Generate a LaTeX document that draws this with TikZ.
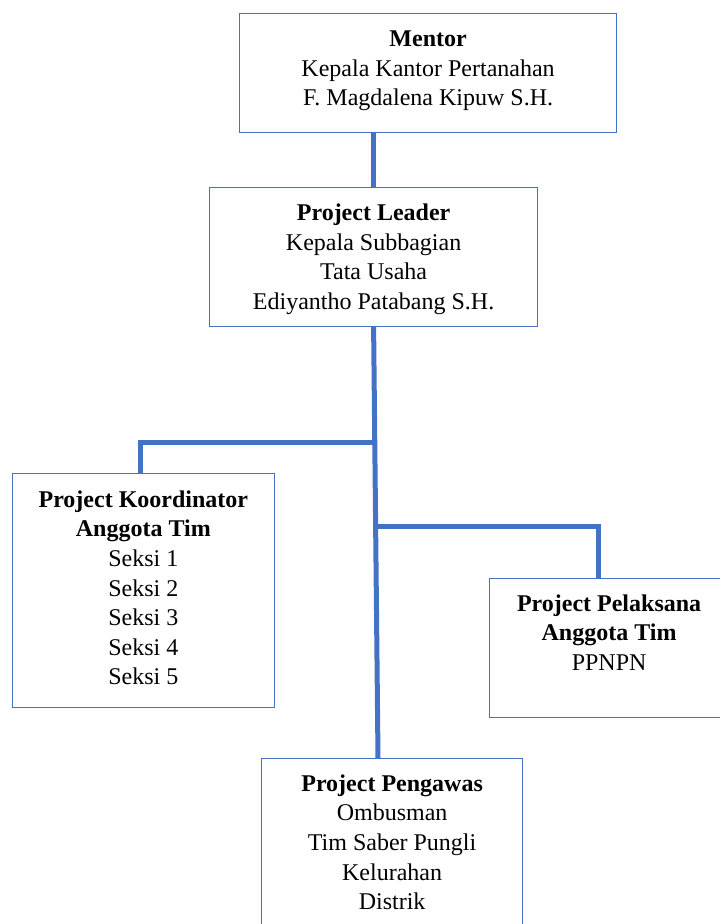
\documentclass[tikz,border=0pt]{standalone}
\usepackage{fontspec}
\setmainfont{Liberation Serif}
\usetikzlibrary{calc,backgrounds}
\definecolor{wblue}{HTML}{4472C4}
\newcommand\myfirst{\rule{0pt}{22pt}}
\begin{document}
\begin{tikzpicture}[x=1pt,y=-1pt,
  box/.style={draw=wblue, line width=1.2pt, fill=white, rectangle, inner sep=0pt, anchor=north west},
  conn/.style={draw=wblue, line width=5pt, line cap=rect, line join=miter},
  lbl/.style={anchor=north, align=center, inner sep=0pt, font=\fontsize{24}{29.6}\selectfont}]
\useasboundingbox (0,0) rectangle (720,924);
\clip (0,0) rectangle (720,924);
\node[box, minimum width=377pt, minimum height=119pt] (mentor) at (239,13) {};
\node[box, minimum width=328pt, minimum height=139pt] (leader) at (209,187) {};
\node[box, minimum width=262.5pt, minimum height=234pt] (koord) at (11.5,473) {};
\node[box, minimum width=239pt, minimum height=139pt] (pelak) at (489,578) {};
\node[box, minimum width=261pt, minimum height=190pt] (pengawas) at (261,758) {};

\node[lbl] (tmentor) at ($(mentor.north)+(0,11.5)$) {\myfirst\textbf{Mentor}\\Kepala Kantor Pertanahan\\F. Magdalena Kipuw S.H.};
\node[lbl] (tleader) at ($(leader.north)+(0,11.5)$) {\myfirst\textbf{Project Leader}\\Kepala Subbagian\\Tata Usaha\\Ediyantho Patabang S.H.};
\node[lbl] (tkoord) at ($(koord.north)+(0,12)$) {\myfirst\textbf{Project Koordinator}\\\textbf{Anggota Tim}\\Seksi 1\\Seksi 2\\Seksi 3\\Seksi 4\\Seksi 5};
\node[lbl] (tpelak) at ($(pelak.north)+(0,11)$) {\myfirst\textbf{Project Pelaksana}\\\textbf{Anggota Tim}\\PPNPN};
\node[lbl] (tpeng) at ($(pengawas.north)+(0,11)$) {\myfirst\textbf{Project Pengawas}\\Ombusman\\Tim Saber Pungli\\Kelurahan\\Distrik};

\coordinate (tb) at (378,758);
\coordinate (j1) at (374.3,442);
\coordinate (j2) at (375.8,526);
\coordinate (kl) at (140,473);
\coordinate (pr) at (598,578);
\begin{scope}[on background layer]
\draw[conn] (mentor.south -| leader.north) -- (leader.north);
\draw[conn] (leader.south) -- (tb);
\draw[conn] (j1) -| (kl);
\draw[conn] (j2) -| (pr);
\end{scope}
\end{tikzpicture}
\end{document}
